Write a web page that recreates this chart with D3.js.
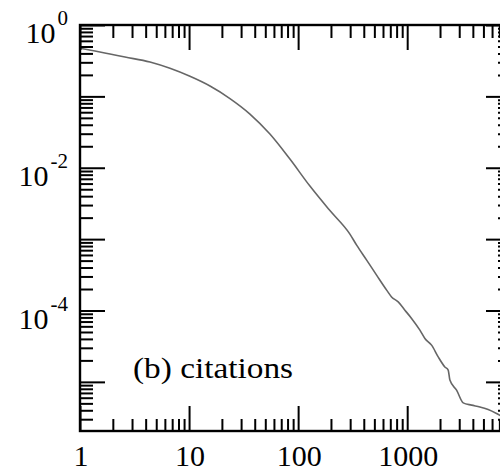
<!DOCTYPE html>
<html lang="en">
<head>
<meta charset="UTF-8">
<title>(b) citations</title>
<script src="https://d3js.org/d3.v7.min.js"></script>
<style>
  body { margin: 0; background: #fff; }
  svg { display: block; }
  text { font-family: "Liberation Serif", "Times New Roman", serif; fill: #000; }
</style>
</head>
<body>
<svg id="chart" width="500" height="474"></svg>
<script>
// cumulative fraction of papers with at least x citations
const citations = [1, 1.372, 1.884, 2.585, 4.382, 6.68, 10.19, 15.55, 23.71, 36.16, 55.14,
  84.09, 128.3, 195.6, 298.4, 344, 425, 524, 648, 719, 827, 953, 1097, 1308, 1453, 1673,
  1924, 2216, 2376, 2463, 2837, 3262, 3893, 4638, 5525, 6598, 7073, 8500];
const fraction = [0.4714, 0.432, 0.3923, 0.3558, 0.3029, 0.2472, 0.191, 0.1396, 0.0932,
  0.05655, 0.02965, 0.01323, 0.005536, 0.00251, 0.001176, 8.24e-4, 5.08e-4, 3.13e-4,
  1.93e-4, 1.55e-4, 1.32e-4, 1.01e-4, 7.74e-5, 5.30e-5, 4.06e-5, 3.27e-5, 2.24e-5, 1.62e-5,
  1.46e-5, 1.06e-5, 7.65e-6, 5.08e-6, 4.72e-6, 4.46e-6, 4.10e-6, 3.61e-6, 3.41e-6, 3.1e-6];

const xMajor = [1, 10, 100, 1000];
const xLabels = ["1", "10", "100", "1000"];
const yMajor = [1, 1e-1, 1e-2, 1e-3, 1e-4, 1e-5];
const yLabelValues = [1, 1e-2, 1e-4];
const yLabelExps = ["0", "-2", "-4"];
const panelLabel = "(b) citations";

const plotLeft = 80, plotRight = 511, plotTop = 25, plotBottom = 431;

const svg = d3.select("#chart");

const x = d3.scaleLog().domain([1, 8950]).range([plotLeft, plotRight]);
const y = d3.scaleLog().domain([2.05e-6, 1]).range([plotBottom, plotTop]);

const minorX = x.ticks().filter(v => !xMajor.includes(v));
const minorY = y.ticks().filter(v => !yMajor.some(m => Math.abs(m - v) / m < 1e-6));

// clip for the curve
svg.append("clipPath").attr("id", "plot")
  .append("rect")
  .attr("x", plotLeft).attr("y", plotTop)
  .attr("width", plotRight - plotLeft).attr("height", plotBottom - plotTop);

// the curve
const line = d3.line()
  .x((d, i) => x(citations[i]))
  .y((d, i) => y(fraction[i]))
  .curve(d3.curveMonotoneX);

svg.append("path")
  .datum(citations)
  .attr("clip-path", "url(#plot)")
  .attr("d", line)
  .attr("fill", "none")
  .attr("stroke", "#666")
  .attr("stroke-width", 1.6);

// ticks, all pointing inwards
function tickAxis(axisFn, scale, values, size, tx, ty) {
  const g = svg.append("g")
    .attr("transform", `translate(${tx},${ty})`)
    .call(axisFn(scale).tickValues(values).tickSize(-size).tickFormat(""));
  g.select(".domain").remove();
  g.selectAll(".tick line").attr("stroke", "#000").attr("stroke-width", 2);
}

tickAxis(d3.axisBottom, x, xMajor, 25, 0, plotBottom);
tickAxis(d3.axisBottom, x, minorX, 12, 0, plotBottom);
tickAxis(d3.axisTop, x, xMajor, 25, 0, plotTop);
tickAxis(d3.axisTop, x, minorX, 13, 0, plotTop);
tickAxis(d3.axisLeft, y, yMajor, 25, plotLeft, 0);
tickAxis(d3.axisLeft, y, minorY, 13, plotLeft, 0);
tickAxis(d3.axisRight, y, yMajor, 25, plotRight, 0);
tickAxis(d3.axisRight, y, minorY, 13, plotRight, 0);

// frame
svg.append("rect")
  .attr("x", plotLeft).attr("y", plotTop)
  .attr("width", plotRight - plotLeft).attr("height", plotBottom - plotTop)
  .attr("fill", "none")
  .attr("stroke", "#000")
  .attr("stroke-width", 2.4);

// x labels
svg.append("g").selectAll("text")
  .data(xMajor)
  .join("text")
  .attr("x", d => x(d) + 1)
  .attr("y", 466)
  .attr("text-anchor", "middle")
  .attr("font-size", 30)
  .text((d, i) => xLabels[i]);

// y labels with exponents
const yl = svg.append("g").selectAll("text")
  .data(yLabelValues)
  .join("text")
  .attr("x", 68)
  .attr("y", d => y(d) + 18)
  .attr("text-anchor", "end")
  .attr("font-size", 30);
yl.append("tspan").text("10");
yl.append("tspan")
  .attr("dx", 2)
  .attr("dy", -18)
  .attr("font-size", 21)
  .text((d, i) => yLabelExps[i]);

// panel label
svg.append("text")
  .attr("x", 133)
  .attr("y", 378)
  .attr("font-size", 29)
  .attr("textLength", 160)
  .attr("lengthAdjust", "spacingAndGlyphs")
  .text(panelLabel);
</script>
</body>
</html>
